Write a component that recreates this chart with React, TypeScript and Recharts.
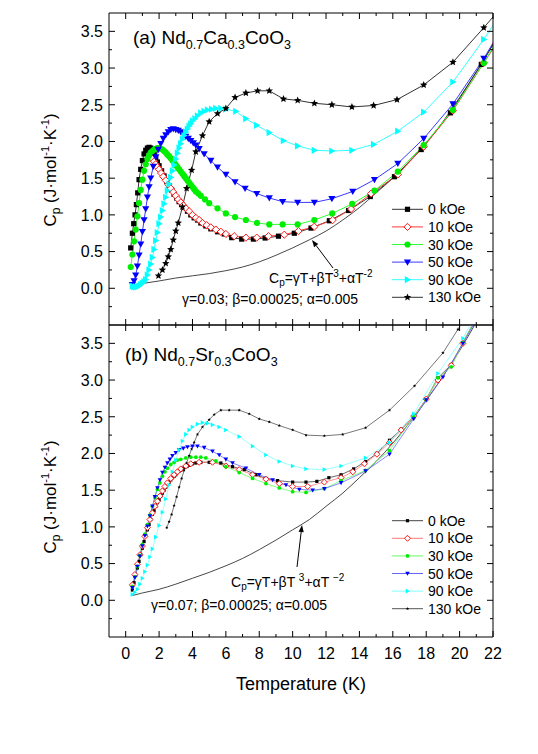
import React from "react"
import { LineChart, Line, XAxis, YAxis } from "recharts"

type Pt = [number, number]

// tick values
const xTicks = [0, 1, 2, 3, 4, 5, 6, 7, 8, 9, 10, 11, 12, 13, 14, 15, 16, 17, 18, 19, 20, 21, 22]
const yTicks = [-0.25, 0, 0.25, 0.5, 0.75, 1, 1.25, 1.5, 1.75, 2, 2.25, 2.5, 2.75, 3, 3.25, 3.5]

// (a) Nd0.7Ca0.3CoO3  [T (K), Cp]
const a0kOe: Pt[] = [[0.3,0.55],[0.4,0.75],[0.48,0.88],[0.56,1.0],[0.64,1.14],[0.72,1.3],[0.8,1.48],[0.9,1.62],[1.0,1.74],[1.1,1.83],[1.2,1.88],[1.3,1.91],[1.4,1.92],[1.5,1.91],[1.6,1.88],[1.7,1.83],[1.8,1.78],[1.9,1.72],[2.0,1.67],[2.15,1.6],[2.3,1.53],[2.45,1.46],[2.6,1.4],[2.75,1.34],[2.9,1.28],[3.05,1.23],[3.2,1.18],[3.35,1.14],[3.5,1.1],[3.7,1.05],[3.9,1.0],[4.1,0.96],[4.3,0.93],[4.5,0.89],[4.8,0.85],[5.1,0.81],[5.5,0.77],[5.9,0.74],[6.35,0.69],[6.95,0.67],[7.65,0.67],[8.35,0.685],[9.15,0.71],[10.1,0.75],[11.1,0.82],[12.2,0.92],[13.35,1.06],[14.65,1.25],[16.1,1.52],[17.7,1.89],[19.45,2.39],[21.3,3.05],[22.2,3.4]]
const a10kOe: Pt[] = [[1.6,1.76],[1.7,1.73],[1.8,1.69],[1.9,1.65],[2.0,1.62],[2.12,1.57],[2.25,1.52],[2.4,1.47],[2.55,1.41],[2.7,1.36],[2.85,1.31],[3.0,1.26],[3.15,1.21],[3.3,1.17],[3.45,1.13],[3.6,1.09],[3.8,1.05],[4.0,1.0],[4.2,0.96],[4.4,0.93],[4.6,0.89],[4.85,0.86],[5.1,0.83],[5.4,0.8],[5.7,0.77],[6.0,0.74],[6.5,0.71],[7.2,0.69],[7.85,0.69],[8.55,0.71],[9.5,0.73],[10.35,0.78],[11.3,0.84],[12.4,0.93],[13.5,1.08],[14.7,1.29],[16.3,1.55],[17.85,1.93],[19.6,2.42],[21.45,3.07],[22.2,3.33]]
const a30kOe: Pt[] = [[0.3,0.29],[0.4,0.46],[0.5,0.64],[0.6,0.8],[0.7,0.98],[0.8,1.16],[0.9,1.34],[1.0,1.48],[1.1,1.6],[1.2,1.69],[1.3,1.76],[1.4,1.81],[1.5,1.85],[1.6,1.87],[1.7,1.89],[1.8,1.9],[1.9,1.91],[2.0,1.91],[2.1,1.9],[2.2,1.89],[2.3,1.87],[2.4,1.85],[2.5,1.82],[2.6,1.8],[2.7,1.77],[2.8,1.74],[2.9,1.71],[3.0,1.68],[3.1,1.65],[3.2,1.62],[3.3,1.59],[3.4,1.56],[3.5,1.53],[3.6,1.5],[3.7,1.47],[3.8,1.44],[3.9,1.41],[4.0,1.38],[4.1,1.35],[4.2,1.32],[4.35,1.29],[4.5,1.26],[4.75,1.21],[5.0,1.16],[5.5,1.09],[6.0,1.02],[6.55,0.97],[7.2,0.93],[7.86,0.89],[8.6,0.87],[9.4,0.87],[10.3,0.87],[11.3,0.93],[12.37,1.02],[13.57,1.15],[14.9,1.33],[16.3,1.59],[17.85,1.95],[19.6,2.43],[21.45,3.07],[22.2,3.36]]
const a50kOe: Pt[] = [[0.4,0.05],[0.5,0.1],[0.6,0.18],[0.7,0.3],[0.8,0.45],[0.9,0.6],[1.0,0.77],[1.1,0.93],[1.2,1.08],[1.3,1.24],[1.4,1.38],[1.5,1.5],[1.65,1.66],[1.8,1.79],[1.95,1.89],[2.1,1.97],[2.25,2.04],[2.4,2.09],[2.55,2.13],[2.7,2.16],[2.85,2.17],[3.0,2.16],[3.15,2.15],[3.3,2.13],[3.45,2.1],[3.6,2.07],[3.75,2.04],[3.9,2.01],[4.05,1.98],[4.2,1.95],[4.4,1.9],[4.7,1.83],[5.1,1.74],[5.5,1.65],[6.0,1.55],[6.55,1.45],[7.15,1.36],[7.85,1.29],[8.6,1.23],[9.4,1.18],[10.3,1.17],[11.3,1.17],[12.35,1.22],[13.6,1.32],[14.9,1.48],[16.3,1.7],[17.85,2.04],[19.6,2.51],[21.45,3.13],[22.2,3.42]]
const a90kOe: Pt[] = [[0.4,0.03],[0.5,0.02],[0.6,0.02],[0.7,0.02],[0.8,0.03],[0.9,0.05],[1.0,0.07],[1.1,0.09],[1.2,0.12],[1.3,0.18],[1.4,0.25],[1.5,0.33],[1.6,0.42],[1.7,0.53],[1.8,0.65],[1.9,0.76],[2.0,0.88],[2.1,0.97],[2.2,1.06],[2.3,1.15],[2.4,1.24],[2.5,1.33],[2.6,1.42],[2.7,1.51],[2.8,1.6],[2.9,1.68],[3.0,1.76],[3.1,1.84],[3.2,1.91],[3.3,1.97],[3.4,2.03],[3.5,2.08],[3.6,2.13],[3.7,2.17],[3.8,2.21],[3.9,2.24],[4.0,2.28],[4.15,2.31],[4.3,2.35],[4.5,2.39],[4.7,2.41],[4.9,2.43],[5.15,2.44],[5.4,2.45],[5.7,2.45],[6.0,2.44],[6.6,2.41],[7.2,2.31],[7.85,2.22],[8.6,2.12],[9.45,2.01],[10.3,1.94],[11.3,1.88],[12.35,1.87],[13.55,1.88],[14.85,1.96],[16.3,2.14],[17.85,2.4],[19.6,2.81],[21.45,3.39],[22.2,3.65]]
const a130kOe: Pt[] = [[1.96,0.17],[2.2,0.25],[2.4,0.34],[2.55,0.43],[2.7,0.53],[2.85,0.66],[3.0,0.78],[3.15,0.89],[3.4,1.11],[3.65,1.36],[3.95,1.61],[4.2,1.86],[4.6,2.08],[5.0,2.27],[5.5,2.38],[6.0,2.45],[6.55,2.6],[7.2,2.66],[7.9,2.69],[8.6,2.69],[9.45,2.58],[10.3,2.56],[11.3,2.52],[12.35,2.5],[13.55,2.47],[14.85,2.49],[16.25,2.57],[17.85,2.77],[19.6,3.08],[21.45,3.55],[22.2,3.75]]
const aModel: Pt[] = [[0.4,0.045],[1,0.065],[2,0.1],[3,0.14],[4,0.17],[5,0.2],[6,0.24],[7,0.29],[8,0.36],[9,0.45],[10,0.55],[11,0.66],[12,0.78],[13,0.93],[14,1.1],[15,1.3],[16,1.5],[17,1.73],[18,1.98],[19,2.27],[20,2.6],[21,2.95],[22,3.32]]

// (b) Nd0.7Sr0.3CoO3
const b0kOe: Pt[] = [[0.4,0.14],[0.5,0.24],[0.6,0.34],[0.7,0.44],[0.8,0.53],[0.9,0.62],[1.0,0.71],[1.1,0.8],[1.2,0.88],[1.3,0.96],[1.4,1.03],[1.5,1.1],[1.6,1.17],[1.7,1.22],[1.8,1.28],[1.9,1.33],[2.0,1.37],[2.1,1.42],[2.2,1.46],[2.3,1.5],[2.4,1.54],[2.5,1.58],[2.6,1.61],[2.7,1.64],[2.8,1.67],[2.9,1.69],[3.0,1.71],[3.1,1.74],[3.2,1.76],[3.3,1.77],[3.4,1.79],[3.5,1.81],[3.6,1.82],[3.7,1.83],[3.8,1.84],[3.9,1.85],[4.0,1.86],[4.2,1.87],[4.5,1.88],[5.0,1.88],[5.7,1.87],[6.4,1.82],[7.1,1.78],[7.8,1.71],[8.4,1.66],[9.1,1.63],[10.0,1.61],[10.8,1.61],[11.45,1.62],[12.17,1.67],[12.9,1.71],[13.65,1.79],[14.37,1.89],[15.05,2.0],[15.8,2.18],[16.5,2.33],[17.25,2.5],[18.0,2.74],[18.7,3.03],[19.5,3.21],[20.2,3.51],[21.0,3.85]]
const b10kOe: Pt[] = [[0.4,0.21],[0.55,0.35],[0.7,0.49],[0.85,0.62],[1.0,0.74],[1.15,0.87],[1.3,0.99],[1.45,1.1],[1.6,1.19],[1.75,1.28],[1.9,1.35],[2.05,1.42],[2.2,1.49],[2.35,1.55],[2.5,1.6],[2.7,1.66],[2.9,1.71],[3.1,1.75],[3.3,1.79],[3.6,1.83],[3.9,1.86],[4.4,1.88],[5.2,1.88],[6.0,1.83],[6.8,1.78],[7.6,1.71],[8.4,1.65],[9.2,1.59],[10.0,1.55],[10.9,1.55],[11.9,1.61],[12.9,1.67],[13.6,1.75],[14.3,1.86],[15.05,1.99],[15.8,2.15],[16.5,2.32],[17.25,2.51],[18.0,2.74],[18.7,3.0],[19.5,3.2],[20.2,3.5],[21.0,3.85]]
const b30kOe: Pt[] = [[0.4,0.19],[0.55,0.32],[0.7,0.46],[0.85,0.61],[1.0,0.76],[1.15,0.9],[1.3,1.03],[1.45,1.16],[1.6,1.28],[1.75,1.4],[1.9,1.51],[2.05,1.6],[2.2,1.69],[2.35,1.75],[2.5,1.8],[2.7,1.85],[2.9,1.88],[3.1,1.91],[3.3,1.92],[3.6,1.94],[3.9,1.95],[4.2,1.95],[4.5,1.95],[4.8,1.94],[5.4,1.9],[6.0,1.82],[6.8,1.74],[7.6,1.66],[8.4,1.59],[9.2,1.53],[10.0,1.48],[10.8,1.47],[11.9,1.52],[12.9,1.63],[14.37,1.77],[15.8,2.04],[17.25,2.5],[18.0,2.73],[18.7,3.03],[19.5,3.18],[20.2,3.51],[21.0,3.85]]
const b50kOe: Pt[] = [[0.4,0.17],[0.55,0.31],[0.7,0.46],[0.85,0.6],[1.0,0.74],[1.15,0.88],[1.3,1.01],[1.45,1.15],[1.6,1.28],[1.75,1.41],[1.9,1.53],[2.05,1.64],[2.2,1.74],[2.35,1.81],[2.5,1.87],[2.65,1.92],[2.8,1.97],[3.0,2.01],[3.2,2.05],[3.45,2.07],[3.7,2.09],[4.0,2.1],[4.3,2.1],[4.7,2.08],[5.2,2.03],[5.6,1.98],[6.0,1.92],[6.4,1.87],[7.2,1.8],[8.0,1.71],[8.8,1.64],[9.6,1.57],[10.4,1.51],[11.2,1.5],[11.9,1.52],[12.9,1.6],[14.37,1.76],[15.8,1.99],[17.25,2.47],[18.0,2.73],[19.0,3.04],[20.2,3.5],[21.0,3.82]]
const b90kOe: Pt[] = [[0.4,0.08],[0.55,0.11],[0.7,0.15],[0.85,0.22],[1.0,0.3],[1.15,0.39],[1.3,0.48],[1.45,0.59],[1.6,0.7],[1.8,0.86],[2.0,1.02],[2.2,1.2],[2.4,1.38],[2.6,1.57],[2.8,1.75],[3.0,1.91],[3.2,2.05],[3.4,2.17],[3.6,2.26],[3.8,2.32],[4.0,2.36],[4.3,2.4],[4.6,2.42],[4.9,2.41],[5.2,2.39],[5.6,2.36],[6.0,2.32],[6.8,2.23],[7.6,2.1],[8.4,1.98],[9.2,1.89],[10.0,1.83],[10.8,1.79],[11.9,1.78],[12.9,1.83],[14.37,1.94],[15.8,2.15],[17.25,2.54],[18.7,3.09],[20.2,3.57],[21.0,3.9]]
const b130kOe: Pt[] = [[2.46,0.99],[2.6,1.07],[2.75,1.17],[2.9,1.29],[3.05,1.41],[3.2,1.54],[3.35,1.66],[3.5,1.77],[3.65,1.87],[3.8,1.97],[3.95,2.06],[4.1,2.15],[4.3,2.26],[4.6,2.36],[5.0,2.46],[5.3,2.53],[5.7,2.59],[6.2,2.59],[6.8,2.59],[7.4,2.54],[8.0,2.47],[8.6,2.43],[9.2,2.38],[10.0,2.32],[10.8,2.25],[11.9,2.24],[13.0,2.26],[14.37,2.35],[15.8,2.59],[17.3,2.92],[19.0,3.37],[19.9,3.69],[20.3,3.85]]
const bModel: Pt[] = [[0.4,0.065],[1,0.1],[2,0.15],[3,0.22],[4,0.3],[5,0.38],[6,0.47],[7,0.57],[8,0.69],[9,0.82],[10,0.96],[11,1.1],[12,1.28],[13,1.46],[14,1.67],[15,1.89],[16,2.14],[17,2.42],[18,2.72],[19,3.05],[20,3.4],[21,3.79]]

const fieldNames = ["0 kOe", "10 kOe", "30 kOe", "50 kOe", "90 kOe", "130 kOe"]

type Shape = "square" | "diamondOpen" | "circle" | "triDown" | "triRight" | "star"

const shapes: Shape[] = ["square", "diamondOpen", "circle", "triDown", "triRight", "star"]
const markColors = ["#000000", "#ff0000", "#00ee00", "#0000ff", "#00ffff", "#000000"]
const lineColorsA = ["#333333", "#ff3a3a", "#33ff33", "#3a3aff", "#33ffff", "#333333"]
const lineColorsB = ["#444444", "#ff7a7a", "#66ff66", "#6666ff", "#80ffff", "#555555"]

const FONT = '"Liberation Sans", Arial, Helvetica, sans-serif'

function drawShape(shape: Shape, cx: number, cy: number, s: number, color: string, key?: any) {
    if (cx == null || cy == null || isNaN(cx) || isNaN(cy)) return <g key={key} />
    switch (shape) {
        case "square":
            return <rect key={key} x={cx - s} y={cy - s} width={2 * s} height={2 * s} fill={color} />
        case "diamondOpen":
            return <polygon key={key} points={`${cx},${cy - s} ${cx + s},${cy} ${cx},${cy + s} ${cx - s},${cy}`} fill="#fff" stroke={color} strokeWidth={0.9} />
        case "circle":
            return <circle key={key} cx={cx} cy={cy} r={s} fill={color} />
        case "triDown":
            return <polygon key={key} points={`${cx - s},${cy - s * 0.75} ${cx + s},${cy - s * 0.75} ${cx},${cy + s}`} fill={color} />
        case "triRight":
            return <polygon key={key} points={`${cx - s * 0.75},${cy - s} ${cx - s * 0.75},${cy + s} ${cx + s},${cy}`} fill={color} />
        default: {
            let pts = ""
            for (let i = 0; i < 10; i++) {
                const r = i % 2 === 0 ? s : s * 0.45
                const a = -Math.PI / 2 + (i * Math.PI) / 5
                pts += `${cx + r * Math.cos(a)},${cy + r * Math.sin(a)} `
            }
            return <polygon key={key} points={pts} fill={color} />
        }
    }
}

const toRows = (pts: Pt[]) => pts.map(([t, c]) => ({ t, c }))

function xTick(dir: number, labels: boolean) {
    return (p: any) => {
        const v = p.payload.value
        const major = v % 2 === 0
        const len = major ? 6 : 3
        return (
            <g>
                <line x1={p.x} x2={p.x} y1={p.y} y2={p.y + dir * len} stroke="#000" strokeWidth={1} />
                {labels && major && (
                    <text x={p.x} y={p.y + 22} textAnchor="middle" fontSize={16} fill="#000" fontFamily={FONT}>{v}</text>
                )}
            </g>
        )
    }
}

function yTick(dir: number, labels: boolean) {
    return (p: any) => {
        const v = p.payload.value
        const major = Math.abs(v * 2 - Math.round(v * 2)) < 1e-6
        const len = major ? 6 : 3
        return (
            <g>
                <line x1={p.x} x2={p.x + dir * len} y1={p.y} y2={p.y} stroke="#000" strokeWidth={1} />
                {labels && major && (
                    <text x={p.x - 6} y={p.y} dy="0.36em" textAnchor="end" fontSize={16} fill="#000" fontFamily={FONT}>{v.toFixed(1)}</text>
                )}
            </g>
        )
    }
}

interface IPanel {
    series: Pt[][]
    model: Pt[]
    lineColors: string[]
    sizes: number[]
    lineWidth: number
    height: number
    topH: number
    bottomH: number
    labels: boolean
}

function Panel(props: IPanel) {
    const { series, model, lineColors, sizes, lineWidth, height, topH, bottomH, labels } = props
    return (
        <LineChart width={538} height={height} margin={{ top: 0, right: 0, bottom: 0, left: 0 }}>
            <XAxis xAxisId="b" type="number" dataKey="t" domain={[-1, 22]} allowDataOverflow ticks={xTicks} interval={0}
                tickSize={0} tickMargin={0} tickLine={false} height={bottomH} stroke="#000" tick={xTick(-1, labels)} />
            <XAxis xAxisId="t" orientation="top" type="number" dataKey="t" domain={[-1, 22]} allowDataOverflow ticks={xTicks} interval={0}
                tickSize={0} tickMargin={0} tickLine={false} height={topH} stroke="#000" tick={xTick(1, false)} />
            <YAxis yAxisId="l" type="number" domain={[-0.5, 3.75]} allowDataOverflow ticks={yTicks} interval={0}
                tickSize={0} tickMargin={0} tickLine={false} width={109} stroke="#000" tick={yTick(1, true)} />
            <YAxis yAxisId="r" orientation="right" type="number" domain={[-0.5, 3.75]} allowDataOverflow ticks={yTicks} interval={0}
                tickSize={0} tickMargin={0} tickLine={false} width={45} stroke="#000" tick={yTick(-1, false)} />
            <Line xAxisId="b" yAxisId="l" data={toRows(model)} dataKey="c" type="monotone" stroke="#333" strokeWidth={0.9}
                dot={false} activeDot={false} isAnimationActive={false} />
            {series.map((pts, i) => (
                <Line key={fieldNames[i]} xAxisId="b" yAxisId="l" data={toRows(pts)} dataKey="c" type="linear"
                    stroke={lineColors[i]} strokeWidth={lineWidth} activeDot={false} isAnimationActive={false}
                    dot={(d: any) => drawShape(shapes[i], d.cx, d.cy, sizes[i], markColors[i], `${i}-${d.index}`)} />
            ))}
        </LineChart>
    )
}

function LegendBox({ top, sizes, lineColors }: { top: number, sizes: number[], lineColors: string[] }) {
    return (
        <g>
            {fieldNames.map((name, i) => {
                const y = top + i * 17.6
                return (
                    <g key={name}>
                        <line x1={392} x2={423} y1={y} y2={y} stroke={lineColors[i]} strokeWidth={1} />
                        {drawShape(shapes[i], 407.5, y, sizes[i], markColors[i])}
                        <text x={428} y={y} dy="0.36em" fontSize={14} fontFamily={FONT}>{name}</text>
                    </g>
                )
            })}
        </g>
    )
}

function Arrow({ x1, y1, x2, y2 }: { x1: number, y1: number, x2: number, y2: number }) {
    const a = Math.atan2(y2 - y1, x2 - x1)
    const L = 7, W = 2.6
    const bx = x2 - L * Math.cos(a), by = y2 - L * Math.sin(a)
    const p1 = `${bx + W * Math.sin(a)},${by - W * Math.cos(a)}`
    const p2 = `${bx - W * Math.sin(a)},${by + W * Math.cos(a)}`
    return (
        <g>
            <line x1={x1} y1={y1} x2={bx} y2={by} stroke="#000" strokeWidth={1} />
            <polygon points={`${x2},${y2} ${p1} ${p2}`} fill="#000" />
        </g>
    )
}

function YTitle({ x, y }: { x: number, y: number }) {
    return (
        <text transform={`translate(${x},${y}) rotate(-90)`} textAnchor="middle" fontSize={17} fontFamily={FONT}>
            C<tspan fontSize={12} dy={4}>p</tspan>
            <tspan dy={-4}> (J·mol</tspan>
            <tspan fontSize={11} dy={-7}>-1</tspan>
            <tspan dy={7}>·K</tspan>
            <tspan fontSize={11} dy={-7}>-1</tspan>
            <tspan dy={7}>)</tspan>
        </text>
    )
}

export default function App() {
    const sizesA = [2.6, 3.6, 3.1, 3.6, 3.6, 3.9]
    const sizesB = [1.6, 3.0, 1.9, 2.3, 2.3, 1.7]
    return (
        <div style={{ position: "absolute", left: 0, top: 0, width: 538, height: 754, background: "#fff", fontFamily: FONT }}>
            <div style={{ position: "absolute", left: 0, top: 0 }}>
                <Panel series={[a0kOe, a10kOe, a30kOe, a50kOe, a90kOe, a130kOe]} model={aModel} lineColors={lineColorsA}
                    sizes={sizesA} lineWidth={1} height={340} topH={13} bottomH={15} labels={false} />
            </div>
            <div style={{ position: "absolute", left: 0, top: 310 }}>
                <Panel series={[b0kOe, b10kOe, b30kOe, b50kOe, b90kOe, b130kOe]} model={bModel} lineColors={lineColorsB}
                    sizes={sizesB} lineWidth={0.8} height={387} topH={15} bottomH={60} labels={true} />
            </div>
            <svg width={538} height={754} style={{ position: "absolute", left: 0, top: 0, pointerEvents: "none" }}>
                <text x={133} y={44} fontSize={19} fontFamily={FONT}>
                    (a) Nd<tspan fontSize={12.5} dy={5}>0.7</tspan><tspan dy={-5}>Ca</tspan><tspan fontSize={12.5} dy={5}>0.3</tspan><tspan dy={-5}>CoO</tspan><tspan fontSize={12.5} dy={5}>3</tspan>
                </text>
                <text x={125} y={361} fontSize={19} fontFamily={FONT}>
                    (b) Nd<tspan fontSize={12.5} dy={5}>0.7</tspan><tspan dy={-5}>Sr</tspan><tspan fontSize={12.5} dy={5}>0.3</tspan><tspan dy={-5}>CoO</tspan><tspan fontSize={12.5} dy={5}>3</tspan>
                </text>

                <LegendBox top={209.3} sizes={sizesA} lineColors={lineColorsA} />
                <LegendBox top={520.7} sizes={sizesB} lineColors={lineColorsB} />

                <text x={269} y={283} fontSize={14} fontFamily={FONT}>
                    C<tspan fontSize={10} dy={3}>p</tspan><tspan dy={-3}>=γT+βT</tspan><tspan fontSize={10} dy={-6}>3</tspan><tspan dy={6}>+αT</tspan><tspan fontSize={10} dy={-6}>-2</tspan>
                </text>
                <text x={182} y={304} fontSize={14} fontFamily={FONT}>γ=0.03; β=0.00025; α=0.005</text>
                <Arrow x1={333} y1={268} x2={312} y2={240} />

                <text x={231} y={587} fontSize={14} fontFamily={FONT}>
                    C<tspan fontSize={10} dy={3}>p</tspan><tspan dy={-3}>=γT+βT </tspan><tspan fontSize={10} dy={-6}>3</tspan><tspan dy={6}>+αT </tspan><tspan fontSize={10} dy={-6}>−2</tspan>
                </text>
                <text x={151} y={610} fontSize={14} fontFamily={FONT}>γ=0.07; β=0.00025; α=0.005</text>
                <Arrow x1={297} y1={567} x2={302} y2={525} />

                <YTitle x={56} y={170} />
                <YTitle x={56} y={497} />
                <text x={301} y={690} textAnchor="middle" fontSize={18} fontFamily={FONT}>Temperature (K)</text>
            </svg>
        </div>
    )
}
